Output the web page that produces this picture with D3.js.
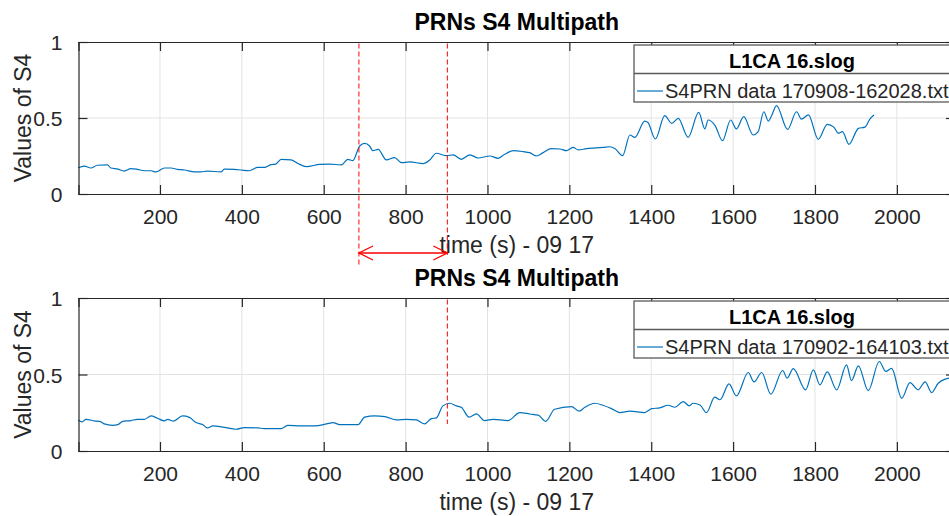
<!DOCTYPE html>
<html>
<head>
<meta charset="utf-8">
<script src="https://cdn.jsdelivr.net/npm/d3@7"></script>
<style>
  body { margin: 0; background: #fff; }
  text { font-family: "Liberation Sans", Arial, Helvetica, sans-serif; }
</style>
</head>
<body>
<div id="chart"></div>
<script>
// data
var topTime = [0,15,31,47,72,80,97,113,129,145,
  162,178,190,211,227,243,260,284,300,316,
  349,357,382,398,418,439,455,471,483,496,
  520,536,558,590,615,643,659,671,688,700,
  712,720,733,753,773,790,810,843,859,875,
  900,916,936,957,977,1006,1026,1042,1063,1087,
  1103,1120,1136,1156,1177,1193,1209,1222,1242,1266,
  1283,1299,1311,1330,1348,1360,1384,1392,1410,1433,
  1450,1466,1490,1516,1531,1539,1556,1574,1594,1608,
  1626,1649,1661,1675,1686,1694,1706,1733,1755,1767,
  1784,1808,1830,1846,1857,1867,1883,1906,1922,1934,
  1944];
var topS4 = [.173,.184,.171,.189,.191,.171,.164,.151,.167,.162,
  .153,.153,.145,.171,.171,.162,.158,.145,.145,.151,
  .145,.164,.162,.158,.153,.175,.175,.193,.197,.228,
  .224,.202,.18,.195,.197,.191,.228,.22,.316,.333,
  .316,.285,.294,.224,.239,.206,.211,.2,.224,.268,
  .252,.258,.228,.258,.237,.25,.235,.261,.285,.279,
  .272,.25,.272,.298,.296,.285,.307,.29,.298,.303,
  .307,.311,.3,.252,.388,.373,.48,.47,.362,.515,
  .465,.498,.373,.537,.428,.487,.45,.351,.487,.428,
  .509,.388,.408,.541,.48,.515,.581,.425,.541,.493,
  .52,.36,.458,.44,.4,.41,.327,.432,.44,.493,
  .52];

var botTime = [0,10,19,40,56,64,84,97,109,129,
  145,162,178,194,211,219,233,255,272,288,
  304,316,329,357,386,406,439,455,496,512,
  545,578,607,623,639,684,700,724,749,778,
  802,826,847,863,875,891,908,924,936,955,
  973,993,1014,1050,1079,1103,1124,1142,1164,1205,
  1224,1238,1262,1282,1303,1323,1348,1384,1401,1421,
  1441,1458,1478,1493,1502,1519,1535,1555,1568,1590,
  1608,1637,1651,1670,1692,1721,1732,1747,1777,1796,
  1812,1830,1853,1877,1889,1906,1930,1957,1973,1987,
  2012,2032,2052,2069,2085,2101,2118,2140];
var botS4 = [.203,.19,.207,.197,.19,.177,.168,.172,.194,.199,
  .207,.207,.229,.214,.197,.207,.195,.229,.22,.186,
  .173,.151,.164,.155,.142,.153,.151,.146,.146,.168,
  .164,.164,.177,.186,.172,.173,.221,.229,.225,.203,
  .207,.203,.177,.212,.216,.295,.312,.295,.286,.221,
  .242,.199,.207,.199,.251,.242,.234,.194,.273,.29,
  .26,.286,.312,.299,.277,.251,.26,.251,.277,.282,
  .299,.286,.323,.295,.312,.301,.251,.352,.335,.439,
  .36,.513,.452,.513,.371,.526,.476,.539,.4,.53,
  .432,.517,.4,.563,.46,.557,.395,.585,.52,.54,
  .345,.447,.4,.452,.382,.443,.47,.48];

var xTicks = [200,400,600,800,1000,1200,1400,1600,1800,2000];
var yTicks = [0, 0.5, 1];
var topMarks = [686, 902];
var botMarks = [902];
var titleText = "PRNs S4 Multipath";
var xLabel = "time (s) - 09 17";
var yLabel = "Values of S4";
var legendTitle = "L1CA 16.slog";
var topLegend = "S4PRN data 170908-162028.txt";
var botLegend = "S4PRN data 170902-164103.txt";

var W = 949, H = 516;
var axisCol = "#262626", lineCol = "#0072BD", red = "#FF0000";
var left = 78.5, right = 955;

var svg = d3.select("#chart").append("svg")
    .attr("width", W)
    .attr("height", H)
    .style("display", "block");

svg.append("rect").attr("width", W).attr("height", H).attr("fill", "#fff");

var x = d3.scaleLinear().domain([1, 2142]).range([left, right]);

function panel(top, bottom, times, vals, legendText, marks, markEnd) {
  var y = d3.scaleLinear().domain([0, 1]).range([bottom, top]);
  var g = svg.append("g");

  // grid
  g.selectAll(".vgrid").data(xTicks).enter().append("line")
      .attr("x1", function(d){ return x(d); })
      .attr("x2", function(d){ return x(d); })
      .attr("y1", top).attr("y2", bottom)
      .attr("stroke", "#e3e3e3").attr("stroke-width", 1);
  g.selectAll(".hgrid").data([0.5]).enter().append("line")
      .attr("x1", left).attr("x2", right)
      .attr("y1", function(d){ return y(d); })
      .attr("y2", function(d){ return y(d); })
      .attr("stroke", "#e3e3e3").attr("stroke-width", 1);

  // data line
  var pts = d3.zip(times, vals);
  g.append("path")
      .datum(pts)
      .attr("fill", "none")
      .attr("stroke", lineCol)
      .attr("stroke-width", 1.2)
      .attr("d", d3.line()
        .x(function(d){ return x(d[0]); })
        .y(function(d){ return y(d[1]); })
        .curve(d3.curveMonotoneX));

  // axes with inward ticks on all four sides
  var tl = 9;
  var xb = g.append("g").attr("transform", "translate(0," + bottom + ")")
      .call(d3.axisBottom(x).tickValues(xTicks).tickSize(-tl).tickPadding(tl + 6).tickFormat(d3.format("d")));
  var xt = g.append("g").attr("transform", "translate(0," + top + ")")
      .call(d3.axisTop(x).tickValues(xTicks).tickSize(-tl).tickFormat(""));
  var yl = g.append("g").attr("transform", "translate(" + left + ",0)")
      .call(d3.axisLeft(y).tickValues(yTicks).tickSize(-tl).tickPadding(tl + 7).tickFormat(d3.format("")));
  var yr = g.append("g").attr("transform", "translate(" + right + ",0)")
      .call(d3.axisRight(y).tickValues(yTicks).tickSize(-tl).tickFormat(""));
  [xb, xt, yl, yr].forEach(function(a){
    a.select(".domain").attr("stroke", axisCol).attr("stroke-width", 1.2);
    a.selectAll(".tick line").attr("stroke", axisCol).attr("stroke-width", 1.2);
    a.selectAll("text").attr("fill", axisCol).style("font-size", "21px")
      .style("font-family", "'Liberation Sans', Arial, sans-serif");
  });
  xb.selectAll("text").attr("dy", "0.71em");
  yl.selectAll("text").attr("dy", "0.36em");

  // labels
  g.append("text")
      .attr("x", (left + right) / 2).attr("y", top - 12)
      .attr("text-anchor", "middle")
      .attr("font-weight", "bold").attr("font-size", 23)
      .attr("fill", "#000")
      .text(titleText);
  g.append("text")
      .attr("x", (left + right) / 2).attr("y", bottom + 59)
      .attr("text-anchor", "middle")
      .attr("font-size", 23).attr("fill", axisCol)
      .text(xLabel);
  g.append("text")
      .attr("transform", "translate(31," + (top + bottom) / 2 + ") rotate(-90)")
      .attr("text-anchor", "middle")
      .attr("font-size", 23).attr("fill", axisCol)
      .text(yLabel);

  // legend
  var lw = 316, lh = 57, lx = right - 5 - lw, ly = top + 3;
  var leg = g.append("g").attr("transform", "translate(" + lx + "," + ly + ")");
  leg.append("rect").attr("width", lw).attr("height", lh)
      .attr("fill", "#fff").attr("stroke", "#5a5a5a").attr("stroke-width", 1.3);
  leg.append("line").attr("x1", 0).attr("x2", lw).attr("y1", 28.5).attr("y2", 28.5)
      .attr("stroke", "#5a5a5a").attr("stroke-width", 1.3);
  leg.append("text").attr("x", lw / 2).attr("y", 23)
      .attr("text-anchor", "middle").attr("font-weight", "bold")
      .attr("font-size", 20).attr("fill", "#000").text(legendTitle);
  leg.append("line").attr("x1", 3).attr("x2", 29).attr("y1", 46).attr("y2", 46)
      .attr("stroke", lineCol).attr("stroke-width", 1.2);
  leg.append("text").attr("x", 31).attr("y", 53)
      .attr("font-size", 20).attr("fill", axisCol).text(legendText);

  // red dashed markers
  svg.selectAll(null).data(marks).enter().append("line")
      .attr("x1", function(d){ return x(d); })
      .attr("x2", function(d){ return x(d); })
      .attr("y1", y(0.99))
      .attr("y2", function(d, i){ return y(markEnd[i]); })
      .attr("stroke", red).attr("stroke-width", 1)
      .attr("stroke-dasharray", "5,3");
  return y;
}

var yTop = panel(42, 194, topTime, topS4, topLegend, topMarks, [-0.467, -0.40]);
var yBot = panel(298, 451, botTime, botS4, botLegend, botMarks, [0.177]);

// double arrow between the two marker times
var ay = yTop(-0.388), x0 = x(topMarks[0]), x1 = x(topMarks[1]);
var arrow = svg.append("g").attr("stroke", red).attr("stroke-width", 1.3).attr("fill", "none");
arrow.append("line").attr("x1", x0).attr("x2", x1).attr("y1", ay).attr("y2", ay);
arrow.append("path").attr("d", "M" + (x0 + 14) + "," + (ay - 7) + "L" + x0 + "," + ay + "L" + (x0 + 14) + "," + (ay + 7));
arrow.append("path").attr("d", "M" + (x1 - 14) + "," + (ay - 7) + "L" + x1 + "," + ay + "L" + (x1 - 14) + "," + (ay + 7));
</script>
</body>
</html>
